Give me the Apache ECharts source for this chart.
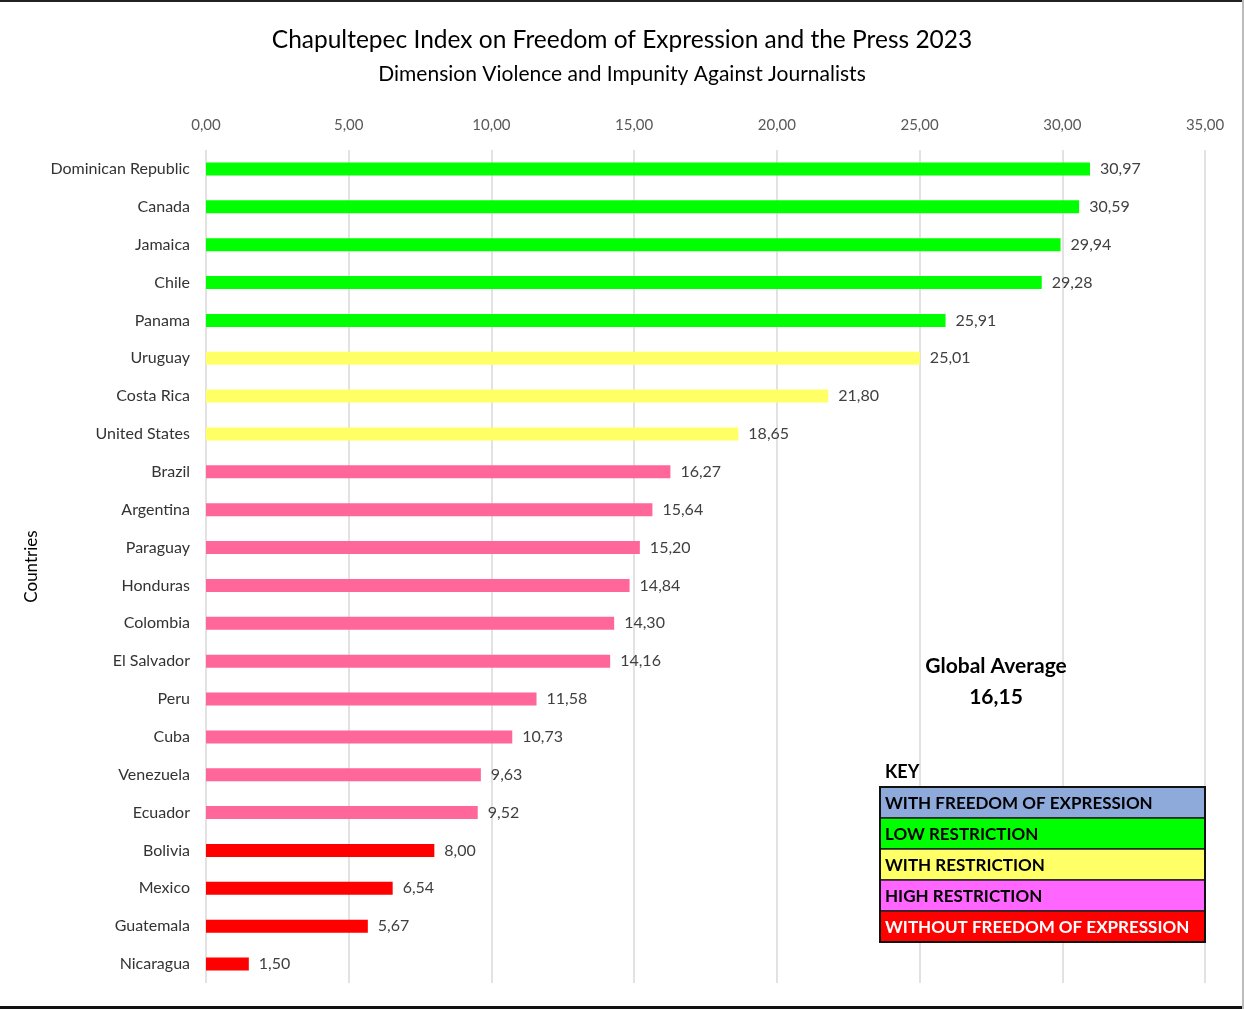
<!DOCTYPE html>
<html>
<head>
<meta charset="utf-8">
<script src="https://cdn.jsdelivr.net/npm/echarts@6/dist/echarts.min.js"></script>
<style>
  html, body { margin: 0; padding: 0; background: #fff; }
  #main { width: 1244px; height: 1009px; }
</style>
</head>
<body>
<div id="main"></div>
<script>
const countries = [
  "Dominican Republic", "Canada", "Jamaica", "Chile", "Panama",
  "Uruguay", "Costa Rica", "United States",
  "Brazil", "Argentina", "Paraguay", "Honduras", "Colombia", "El Salvador",
  "Peru", "Cuba", "Venezuela", "Ecuador",
  "Bolivia", "Mexico", "Guatemala", "Nicaragua"
];
const scores = [
  30.97, 30.59, 29.94, 29.28, 25.91,
  25.01, 21.80, 18.65,
  16.27, 15.64, 15.20, 14.84, 14.30, 14.16,
  11.58, 10.73, 9.63, 9.52,
  8.00, 6.54, 5.67, 1.50
];
// 0 = with freedom, 1 = low, 2 = with restriction, 3 = high, 4 = without freedom
const levels = [1, 1, 1, 1, 1, 2, 2, 2, 3, 3, 3, 3, 3, 3, 3, 3, 3, 3, 4, 4, 4, 4];
const barColors = ["#8eaadb", "#00ff00", "#ffff66", "#ff6699", "#ff0000"];

const keyLabels = [
  "WITH FREEDOM OF EXPRESSION",
  "LOW RESTRICTION",
  "WITH RESTRICTION",
  "HIGH RESTRICTION",
  "WITHOUT FREEDOM OF EXPRESSION"
];
const keyColors = ["#8eaadb", "#00ff00", "#ffff66", "#ff66ff", "#ff0000"];
const keyTextColors = ["#000", "#000", "#000", "#000", "#fff"];
const globalAverage = 16.15;

const FONT = "Lato, 'Open Sans', sans-serif";
const fmt = (v) => v.toFixed(2).replace(".", ",");

const chart = echarts.init(document.getElementById("main"));

// key box
const keyGraphics = [];
const keyX = 880, keyY = 787, keyW = 325, rowH = 31;
keyGraphics.push({
  type: "text", left: 885, top: 763, z: 100,
  style: { text: "KEY", font: "bold 18px " + FONT, fill: "#000" }
});
keyLabels.forEach((label, i) => {
  keyGraphics.push({
    type: "rect", z: 100,
    shape: { x: keyX, y: keyY + i * rowH, width: keyW, height: rowH },
    style: { fill: keyColors[i], stroke: "#222", lineWidth: 1.5 }
  });
  keyGraphics.push({
    type: "text", x: keyX + 5, y: keyY + i * rowH + rowH / 2 + 1, z: 101,
    style: {
      text: label, font: "bold 17px " + FONT, fill: keyTextColors[i],
      verticalAlign: "middle"
    }
  });
});
keyGraphics.push({
  type: "rect", z: 102,
  shape: { x: keyX, y: keyY, width: keyW, height: rowH * 5 },
  style: { fill: "none", stroke: "#111", lineWidth: 2 }
});

const option = {
  backgroundColor: "#fff",
  animation: false,
  title: [
    {
      text: "Chapultepec Index on Freedom of Expression and the Press 2023",
      left: "center", top: 23,
      textStyle: { fontFamily: FONT, fontSize: 24.5, fontWeight: "normal", color: "#000" }
    },
    {
      text: "Dimension Violence and Impunity Against Journalists",
      left: "center", top: 59,
      textStyle: { fontFamily: FONT, fontSize: 21, fontWeight: "normal", color: "#000" }
    }
  ],
  grid: { left: 206, right: 39, top: 150, bottom: 26 },
  xAxis: {
    type: "value", position: "top",
    min: 0, max: 35, interval: 5,
    axisLine: { show: false },
    axisTick: { show: false },
    axisLabel: {
      formatter: fmt, margin: 17,
      fontFamily: FONT, fontSize: 15, color: "#595959"
    },
    splitLine: { lineStyle: { color: "#d9d9d9", width: 1.5 } }
  },
  yAxis: {
    type: "category", inverse: true, data: countries,
    name: "Countries", nameLocation: "middle", nameGap: 161, nameRotate: 90,
    nameTextStyle: { fontFamily: FONT, fontSize: 17, color: "#000" },
    axisLine: { show: false },
    axisTick: { show: false },
    axisLabel: { margin: 16, fontFamily: FONT, fontSize: 16, color: "#333" }
  },
  series: [
    {
      type: "bar", barWidth: 13,
      data: scores.map((v, i) => ({ value: v, itemStyle: { color: barColors[levels[i]] } })),
      label: {
        show: true, position: "right", distance: 10,
        formatter: (p) => fmt(p.value),
        fontFamily: FONT, fontSize: 16, color: "#404040"
      }
    }
  ],
  graphic: [
    {
      type: "text", x: 996, y: 682, z: 100,
      style: {
        text: "Global Average\n" + fmt(globalAverage),
        font: "bold 21px " + FONT, fill: "#000",
        align: "center", verticalAlign: "middle", lineHeight: 31
      }
    },
    ...keyGraphics,
    { type: "rect", z: 100, shape: { x: 0, y: 0, width: 1244, height: 2 }, style: { fill: "#222" } },
    { type: "rect", z: 100, shape: { x: 0, y: 1006, width: 1244, height: 3 }, style: { fill: "#111" } },
    { type: "rect", z: 100, shape: { x: 1242, y: 0, width: 2, height: 1009 }, style: { fill: "#bbb" } }
  ]
};

chart.setOption(option);
</script>
</body>
</html>
